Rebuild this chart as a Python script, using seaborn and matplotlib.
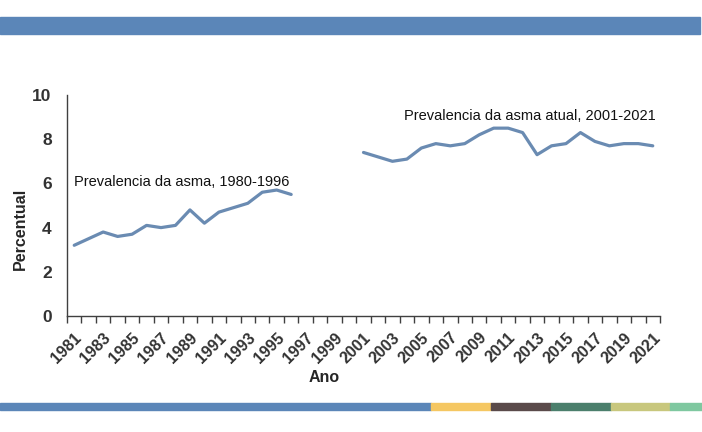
import matplotlib
matplotlib.use("Agg")
import matplotlib.pyplot as plt
from matplotlib.patches import Rectangle
from matplotlib.ticker import MultipleLocator, FixedLocator
import pandas as pd
import seaborn as sns

# asthma prevalence series
years_a = list(range(1981, 1997))
prev_a = [3.2, 3.5, 3.8, 3.6, 3.7, 4.1, 4.0, 4.1, 4.8, 4.2, 4.7, 4.9, 5.1, 5.6, 5.7, 5.5]

years_b = list(range(2001, 2022))
prev_b = [7.4, 7.2, 7.0, 7.1, 7.6, 7.8, 7.7, 7.8, 8.2, 8.5, 8.5, 8.3, 7.3, 7.7, 7.8, 8.3,
          7.9, 7.7, 7.8, 7.8, 7.7]

label_a = "Prevalencia da asma, 1980-1996"
label_b = "Prevalencia da asma atual, 2001-2021"
tick_years = list(range(1981, 2022, 2))

line_color = "#6a8bb2"
axis_color = "#404040"

sns.set_style("white")
plt.rcParams['font.family'] = ['Liberation Sans', 'DejaVu Sans']

fig = plt.figure(figsize=(7.02, 4.32), dpi=100)
ax = fig.add_axes([67/702, 116/432, 593/702, 221/432])

df_a = pd.DataFrame({"ano": years_a, "pct": prev_a})
df_b = pd.DataFrame({"ano": years_b, "pct": prev_b})
sns.lineplot(data=df_a, x="ano", y="pct", color=line_color, lw=2.3, ax=ax)
sns.lineplot(data=df_b, x="ano", y="pct", color=line_color, lw=2.3, ax=ax)

ax.set_xlim(1980.5, 2021.5)
ax.set_ylim(0, 10)
ax.yaxis.set_major_locator(MultipleLocator(2))

# category-style ticks: marks between years, labels on odd years
ax.xaxis.set_major_locator(FixedLocator(tick_years))
ax.set_xticklabels([str(y) for y in tick_years], rotation=45, ha='right',
                   rotation_mode='anchor', fontsize=11.5, fontweight='bold', color='#333333')
ax.xaxis.set_minor_locator(FixedLocator([y + 0.5 for y in range(1980, 2022)]))
ax.tick_params(axis='x', which='major', length=0, pad=10)
ax.tick_params(axis='x', which='minor', length=5, width=1, color=axis_color, direction='out')
ax.tick_params(axis='y', length=5, width=1, color=axis_color, direction='out',
               labelsize=12.5, pad=6)
for t in ax.get_yticklabels():
    t.set_fontweight('bold')
    t.set_color('#333333')
ax.tick_params(axis='x', which='both', bottom=True)

for s in ['top', 'right']:
    ax.spines[s].set_visible(False)
for s in ['left', 'bottom']:
    ax.spines[s].set_color(axis_color)
    ax.spines[s].set_linewidth(1)

ax.set_xlabel("Ano", fontsize=11.5, fontweight='bold')
ax.set_ylabel("Percentual", fontsize=11.5, fontweight='bold')
ax.xaxis.set_label_coords(0.433, -0.245)
ax.yaxis.set_label_coords(-0.066, 0.394)

ax.text(1980.95, 6.05, label_a, fontsize=10.5, color='#111111', va='center')
ax.text(2021.2, 9.05, label_b, fontsize=10.5, color='#111111', va='center', ha='right')

# decorative bars
fig.patches.append(Rectangle((0, 1 - 34/432), 700/702, 17/432, transform=fig.transFigure,
                             color="#5b86b8", zorder=0))
seg_edges = [0, 431, 491, 551, 611, 670, 702]
seg_colors = ["#5b86b8", "#f5c762", "#5a4a4a", "#4b7f6c", "#c8c77d", "#7fc8a0"]
for i, c in enumerate(seg_colors):
    fig.patches.append(Rectangle((seg_edges[i]/702, 1 - 410/432),
                                 (seg_edges[i+1] - seg_edges[i])/702, 7/432,
                                 transform=fig.transFigure, color=c, zorder=0))

fig.savefig("out.png", dpi=100)
